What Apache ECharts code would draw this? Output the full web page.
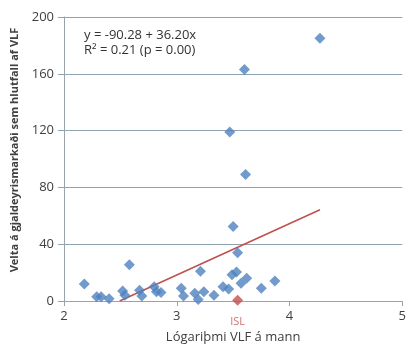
<!DOCTYPE html>
<html>
<head>
<meta charset="utf-8">
<script src="https://cdn.jsdelivr.net/npm/echarts@6/dist/echarts.min.js"></script>
<style>
  html, body { margin: 0; padding: 0; background: #fff; }
  #chart { width: 409px; height: 350px; }
</style>
</head>
<body>
<div id="chart"></div>
<script>
// lógariþmi VLF á mann (x) og velta sem hlutfall af VLF (y)
var logVlf = [2.18, 2.29, 2.33, 2.40, 2.52, 2.54, 2.58, 2.67, 2.69, 2.80, 2.82, 2.86,
              3.04, 3.06, 3.16, 3.19, 3.21, 3.24, 3.33, 3.41, 3.46, 3.47, 3.49, 3.50,
              3.53, 3.54, 3.57, 3.60, 3.61, 3.62, 3.75, 3.87, 4.27];
var velta  = [12, 3, 3, 1.5, 7, 4, 25.5, 7.5, 3.5, 10, 6.5, 6,
              9, 3.5, 5.5, 1, 21, 6.5, 4, 10, 8.5, 119, 18.5, 52.5,
              20.5, 34, 12.5, 163, 89, 16, 9, 14, 185];
var islLabel = ['ISL'];
var islX = [3.54];
var islY = [0.5];
var regCoef = [-90.28, 36.20];   // skurðpunktur, hallatala
var yTicks = [0, 40, 80, 120, 160, 200];
var xTicks = [2, 3, 4, 5];

var points = logVlf.map(function(x, i){ return [x, velta[i]]; });
var isl = islX.map(function(x, i){ return { value: [x, islY[i]], name: islLabel[i] }; });

// aðhvarfslína: frá y=0 að stærsta x-gildi
var x0 = -regCoef[0] / regCoef[1];
var x1 = Math.max.apply(null, logVlf);
var regLine = [[x0, regCoef[0] + regCoef[1] * x0], [x1, regCoef[0] + regCoef[1] * x1]];

var font = 'Open Sans';
var myChart = echarts.init(document.getElementById('chart'));
var option = {
    animation: false,
    backgroundColor: '#fff',
    grid: { left: 64, right: 4, top: 17, bottom: 49 },
    xAxis: {
        type: 'value',
        min: xTicks[0], max: xTicks[xTicks.length - 1], interval: 1,
        name: 'Lógariþmi VLF á mann',
        nameLocation: 'middle', nameGap: 30,
        nameTextStyle: { fontFamily: font, fontSize: 13, color: '#404040' },
        axisLine: { onZero: false, lineStyle: { color: '#9aa3aa', width: 1 } },
        axisTick: { show: true, length: 5, lineStyle: { color: '#9aa3aa' } },
        axisLabel: { fontFamily: font, fontSize: 13, color: '#404040', margin: 9 },
        splitLine: { show: false }
    },
    yAxis: {
        type: 'value',
        min: yTicks[0], max: yTicks[yTicks.length - 1], interval: 40,
        axisLine: { show: true, lineStyle: { color: '#9aa3aa', width: 1 } },
        axisTick: { show: true, length: 6, lineStyle: { color: '#8fa3b0' } },
        axisLabel: { fontFamily: font, fontSize: 13, color: '#404040', margin: 10 },
        splitLine: { show: true, lineStyle: { color: '#8fa3b0', width: 1 } }
    },
    series: [
        {
            type: 'line',
            data: regLine,
            symbol: 'none',
            lineStyle: { color: '#C0504D', width: 1.5 },
            z: 1
        },
        {
            type: 'scatter',
            data: points,
            symbol: 'diamond',
            symbolSize: 11,
            itemStyle: { color: '#4F81BD' },
            z: 3
        },
        {
            type: 'scatter',
            data: isl,
            symbol: 'diamond',
            symbolSize: 11,
            itemStyle: { color: '#C0504D' },
            label: {
                show: true, position: 'bottom', distance: 11,
                formatter: '{b}', fontFamily: font, fontSize: 11, color: '#C0504D'
            },
            z: 4
        }
    ],
    graphic: [
        {
            type: 'text', left: 84, top: 28,
            style: {
                text: 'y = -90.28 + 36.20x\nR² = 0.21 (p = 0.00)',
                font: '13px "Open Sans"', fill: '#333', lineHeight: 15
            }
        },
        {
            // heiti y-áss, aðeins ofar en miðja teiknisvæðisins eins og í frumriti
            type: 'text', x: 15, y: 150, rotation: Math.PI / 2,
            style: {
                text: 'Velta á gjaldeyrismarkaði sem hlutfall af VLF',
                font: 'bold 11px "Open Sans"', fill: '#404040',
                align: 'center', verticalAlign: 'middle'
            }
        }
    ]
};
myChart.setOption(option);
</script>
</body>
</html>
